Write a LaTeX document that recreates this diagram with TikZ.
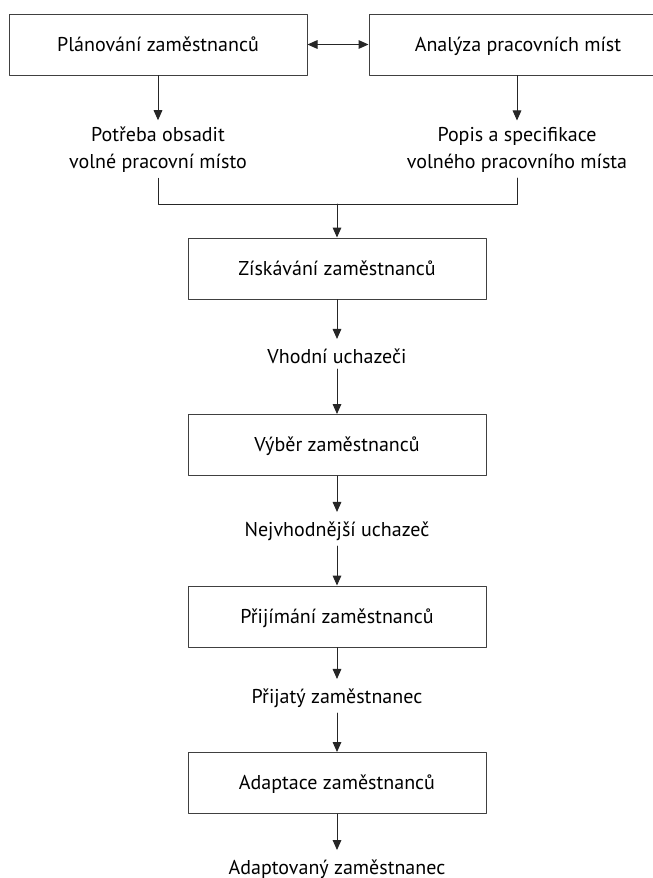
\documentclass[tikz,border=0pt]{standalone}
\usepackage{fontspec}
\setmainfont{PT Sans}
\usetikzlibrary{arrows.meta}

\begin{document}
\begin{tikzpicture}[
  x=0.75pt,
  y=-0.75pt,
  line cap=round,
  line join=round,
  every node/.style={font=\fontsize{15pt}{20.25pt}\selectfont, text=black},
  box/.style={draw=black!75, line width=0.75pt, minimum width=223.5pt, minimum height=45.75pt, inner sep=0pt, text depth=1pt},
  lbl/.style={align=center, inner sep=0pt},
  conn/.style={draw=black!85, line width=0.75pt, -{Triangle[length=7.5pt,width=6.5pt]}},
  spoj/.style={draw=black!85, line width=0.75pt}
]
  \useasboundingbox (0,0) rectangle (653,878);
  \clip (0,0) rectangle (653,878);

  % Horni rada
  \node[box] (plan)    at (158,44.5) {Plánování zaměstnanců};
  \node[box] (analyza) at (518,44.5) {Analýza pracovních míst};

  \node[lbl] (potreba) at (158,150) {Potřeba obsadit\\volné pracovní místo};
  \node[lbl] (popis)   at (517,150) {Popis a specifikace\\volného pracovního místa};

  % Hlavni proces
  \node[box] (ziskavani) at (337,268.5) {Získávání zaměstnanců};
  \node[lbl] (vhodni)    at (337,356)   {Vhodní uchazeči};
  \node[box] (vyber)     at (337,445)   {Výběr zaměstnanců};
  \node[lbl] (nejvh)     at (337,531)   {Nejvhodnější uchazeč};
  \node[box] (prijimani) at (337,616.5) {Přijímání zaměstnanců};
  \node[lbl] (prijaty)   at (337,698)   {Přijatý zaměstnanec};
  \node[box] (adaptace)  at (337,783)   {Adaptace zaměstnanců};
  \node[lbl] (adapt)     at (337,869)   {Adaptovaný zaměstnanec};

  % Spojeni horni rady
  \draw[conn, {Triangle[length=7.5pt,width=6.5pt]}-{Triangle[length=7.5pt,width=6.5pt]}]
    (plan.east) -- (analyza.west);
  \draw[conn, shorten >=5pt] (plan.south) -- (potreba.north);
  \draw[conn, shorten >=5pt] (analyza.south -| popis.north) -- (popis.north);

  % Slouceni do jedne vetve
  \coordinate (slevy)  at (158,204);
  \coordinate (spravy) at (517,204);
  \coordinate (stred)  at (337,204);
  \draw[spoj] ([yshift=-4pt]potreba.south) -- (slevy) -- (spravy)
    -- ([yshift=-4pt]popis.south);
  \draw[conn] (stred) -- (ziskavani.north);

  % Svisle sipky
  \draw[conn, shorten >=7pt] (ziskavani.south) -- (vhodni.north);
  \draw[conn, shorten <=4pt] (vhodni.south) -- (vyber.north);
  \draw[conn, shorten >=7pt] (vyber.south) -- (nejvh.north);
  \draw[conn, shorten <=4pt] (nejvh.south) -- (prijimani.north);
  \draw[conn, shorten >=7pt] (prijimani.south) -- (prijaty.north);
  \draw[conn, shorten <=4pt] (prijaty.south) -- (adaptace.north);
  \draw[conn, shorten >=7pt] (adaptace.south) -- (adapt.north);
\end{tikzpicture}
\end{document}
